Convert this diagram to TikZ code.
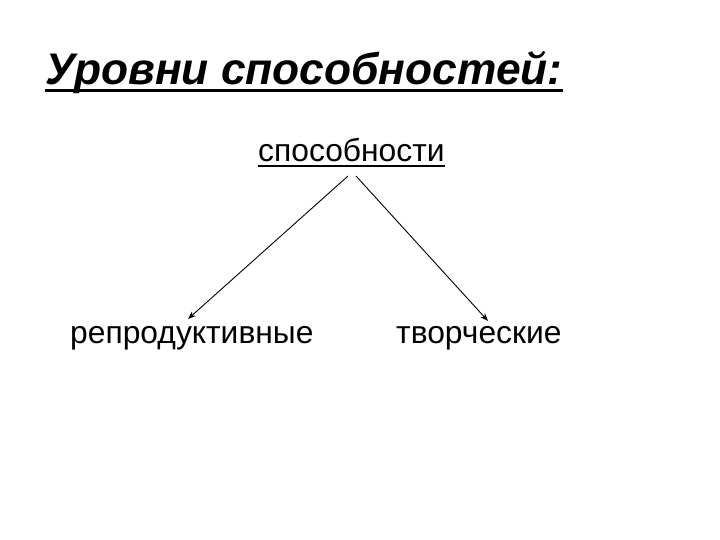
\documentclass[tikz,border=0pt]{standalone}
\usepackage{fontspec}
\setmainfont{Liberation Sans}
\usetikzlibrary{arrows.meta}
\begin{document}
\begin{tikzpicture}[x=1pt,y=-1pt,
  title/.style={font=\fontsize{44.3}{50}\selectfont\bfseries\itshape, inner sep=0pt, anchor=base west},
  lbl/.style={font=\fontsize{31.8}{36}\selectfont, inner sep=0pt, anchor=base west},
  conn/.style={line width=0.9pt, -{Stealth[length=8pt,width=6pt]}}]
\useasboundingbox[fill=white] (0,0) rectangle (720,540);
\node[title] (t) at (45,85) {Уровни способностей:};
\draw[line width=3pt] (t.base west) ++(0,6) -- ([yshift=-6pt]t.base east);
\node[lbl] (s) at (258,162) {способности};
\draw[line width=1.5pt] (s.base west) ++(0,4) -- ([yshift=-4pt]s.base east);
\node[lbl] (r) at (70,343) {репродуктивные};
\node[lbl] (c) at (396,343) {творческие};
\coordinate (sl) at (348,176);
\coordinate (sr) at (356,176);
\coordinate (rl) at (188,319);
\coordinate (cr) at (488,321);
\draw[conn] (sl) -- (rl);
\draw[conn] (sr) -- (cr);
\end{tikzpicture}
\end{document}
